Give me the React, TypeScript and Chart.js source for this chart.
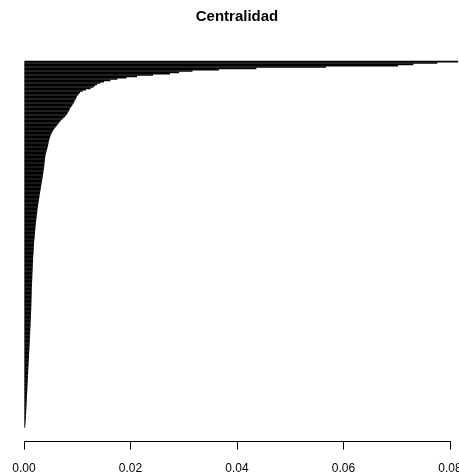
import React, { useEffect, useRef } from 'react';
import { Chart, registerables } from 'chart.js';

Chart.register(...registerables);

const FONT = '"Liberation Sans", Arial, Helvetica, sans-serif';

const titulo = 'Centralidad';

// Marcas del eje de centralidad
const ticksX = [0, 0.02, 0.04, 0.06, 0.08];

// Centralidad de cada nodo, ordenada de mayor a menor (la primera barra va arriba)
const centralidad = [
  0.0815, 0.0776, 0.0731, 0.0702, 0.0567, 0.0436, 0.0366, 0.0316, 0.0291, 0.0274,
  0.0242, 0.0212, 0.0192, 0.0175, 0.0162, 0.015, 0.0143, 0.0137, 0.0133, 0.013,
  0.0125, 0.0116, 0.011, 0.0105, 0.0103, 0.0101, 0.0099, 0.0098, 0.0097, 0.0095,
  0.0094, 0.0093, 0.0091, 0.009, 0.0088, 0.0086, 0.0085, 0.0084, 0.0082, 0.0081,
  0.0079, 0.0077, 0.0074, 0.0072, 0.0069, 0.0067, 0.0065, 0.0063, 0.0061, 0.0059,
  0.0057, 0.0055, 0.0054, 0.0052, 0.0051, 0.005, 0.0049, 0.00483, 0.00475, 0.00468,
  0.00462, 0.00457, 0.00452, 0.00447, 0.00441, 0.00435, 0.00428, 0.00422, 0.00415, 0.00409,
  0.00403, 0.00397, 0.00393, 0.00391, 0.00388, 0.00386, 0.00383, 0.0038, 0.00378, 0.00376,
  0.00372, 0.00368, 0.00364, 0.00361, 0.00357, 0.00353, 0.00348, 0.00345, 0.00341, 0.00337,
  0.00332, 0.00329, 0.00324, 0.0032, 0.00316, 0.00312, 0.00308, 0.00303, 0.00299, 0.00295,
  0.00291, 0.00287, 0.00284, 0.0028, 0.00276, 0.00272, 0.00268, 0.00264, 0.0026, 0.00256,
  0.00253, 0.00249, 0.00247, 0.00244, 0.00241, 0.00238, 0.00235, 0.00232, 0.00229, 0.00226,
  0.00223, 0.0022, 0.00217, 0.00215, 0.00213, 0.0021, 0.00208, 0.00206, 0.00204, 0.00202,
  0.00199, 0.00197, 0.00195, 0.00193, 0.0019, 0.00188, 0.00186, 0.00185, 0.00183, 0.00182,
  0.0018, 0.00179, 0.00177, 0.00176, 0.00174, 0.00172, 0.00171, 0.00169, 0.00168, 0.00167,
  0.00166, 0.00165, 0.00163, 0.00162, 0.00161, 0.0016, 0.00159, 0.00158, 0.00156, 0.00155,
  0.00154, 0.00153, 0.00152, 0.00151, 0.0015, 0.00149, 0.00148, 0.00147, 0.00146, 0.00145,
  0.00144, 0.00143, 0.00142, 0.00142, 0.00141, 0.0014, 0.0014, 0.00139, 0.00138, 0.00137,
  0.00137, 0.00136, 0.00136, 0.00135, 0.00134, 0.00133, 0.00132, 0.00131, 0.0013, 0.00129,
  0.00128, 0.00127, 0.00126, 0.00125, 0.00124, 0.00122, 0.00121, 0.0012, 0.00119, 0.00118,
  0.00116, 0.00115, 0.00114, 0.00113, 0.00112, 0.00111, 0.00109, 0.00108, 0.00107, 0.00106,
  0.00104, 0.00103, 0.00102, 0.00101, 0.001, 0.00098, 0.00097, 0.00096, 0.00094, 0.00093,
  0.00092, 0.0009, 0.00089, 0.00088, 0.00086, 0.00085, 0.00084, 0.00082, 0.00081, 0.0008,
  0.00078, 0.00077, 0.00076, 0.00075, 0.00074, 0.00072, 0.00071, 0.0007, 0.00069, 0.00067,
  0.00066, 0.00065, 0.00063, 0.00062, 0.00061, 0.0006, 0.00059, 0.00057, 0.00056, 0.00055,
  0.00054, 0.00052, 0.00051, 0.0005, 0.00048, 0.00047, 0.00046, 0.00045, 0.00044, 0.00042,
  0.00041, 0.0004, 0.00038, 0.00037, 0.00036, 0.00035, 0.00033, 0.00032, 0.00031, 0.00029,
  0.00027, 0.00025, 0.00023, 0.00021, 0.00018,
];

const CANVAS_W = 480;
const CANVAS_H = 487;

export default function App() {
  const canvasRef = useRef<HTMLCanvasElement>(null);

  useEffect(() => {
    const canvas = canvasRef.current;
    if (!canvas) return;
    const n = centralidad.length;
    const yMin = -0.5;
    // espacio libre bajo la última barra, antes del eje
    const yMax = n - 0.5 + 10.5;

    const chart = new Chart(canvas, {
      type: 'bar',
      data: {
        datasets: [
          {
            data: centralidad.map((v, i) => ({ x: v, y: i })),
            backgroundColor: '#000000',
            borderWidth: 0,
            barPercentage: 1,
            categoryPercentage: 1,
            inflateAmount: 0.15,
            clip: false,
          } as any,
        ],
      },
      options: {
        indexAxis: 'y',
        responsive: false,
        maintainAspectRatio: false,
        animation: false,
        devicePixelRatio: 1,
        layout: { padding: { left: 24, right: 30, top: 0, bottom: 0 } },
        plugins: {
          legend: { display: false },
          tooltip: { enabled: false },
          title: {
            display: true,
            text: titulo,
            color: '#000000',
            font: { family: FONT, size: 15, weight: 'bold' },
            padding: { top: 8, bottom: 35 },
          },
        },
        scales: {
          y: {
            type: 'linear',
            display: false,
            reverse: true,
            offset: false,
            bounds: 'data',
            grace: 0,
            beginAtZero: false,
            min: yMin,
            max: yMax,
            afterDataLimits: (scale: any) => {
              scale.min = yMin;
              scale.max = yMax;
            },
            afterBuildTicks: (scale: any) => {
              scale.min = yMin;
              scale.max = yMax;
            },
          },
          x: {
            type: 'linear',
            min: 0,
            max: 0.08,
            afterBuildTicks: (scale: any) => {
              scale.ticks = ticksX.map((v) => ({ value: v }));
            },
            ticks: {
              autoSkip: false,
              maxRotation: 0,
              color: '#000000',
              font: { family: FONT, size: 12 },
              padding: 11.5,
              callback: (v: any) => Number(v).toFixed(2),
            },
            grid: {
              display: true,
              drawOnChartArea: false,
              drawTicks: true,
              tickLength: 8,
              color: '#000000',
              lineWidth: 1,
            },
            border: { display: true, color: '#000000', width: 1 },
          },
        },
      } as any,
    });

    return () => chart.destroy();
  }, []);

  return (
    <div
      style={{
        position: 'fixed',
        left: 0,
        top: 0,
        width: 459,
        height: 474,
        overflow: 'hidden',
        background: '#ffffff',
      }}
    >
      <canvas
        ref={canvasRef}
        width={CANVAS_W}
        height={CANVAS_H}
        style={{ display: 'block', width: CANVAS_W, height: CANVAS_H }}
      />
    </div>
  );
}
